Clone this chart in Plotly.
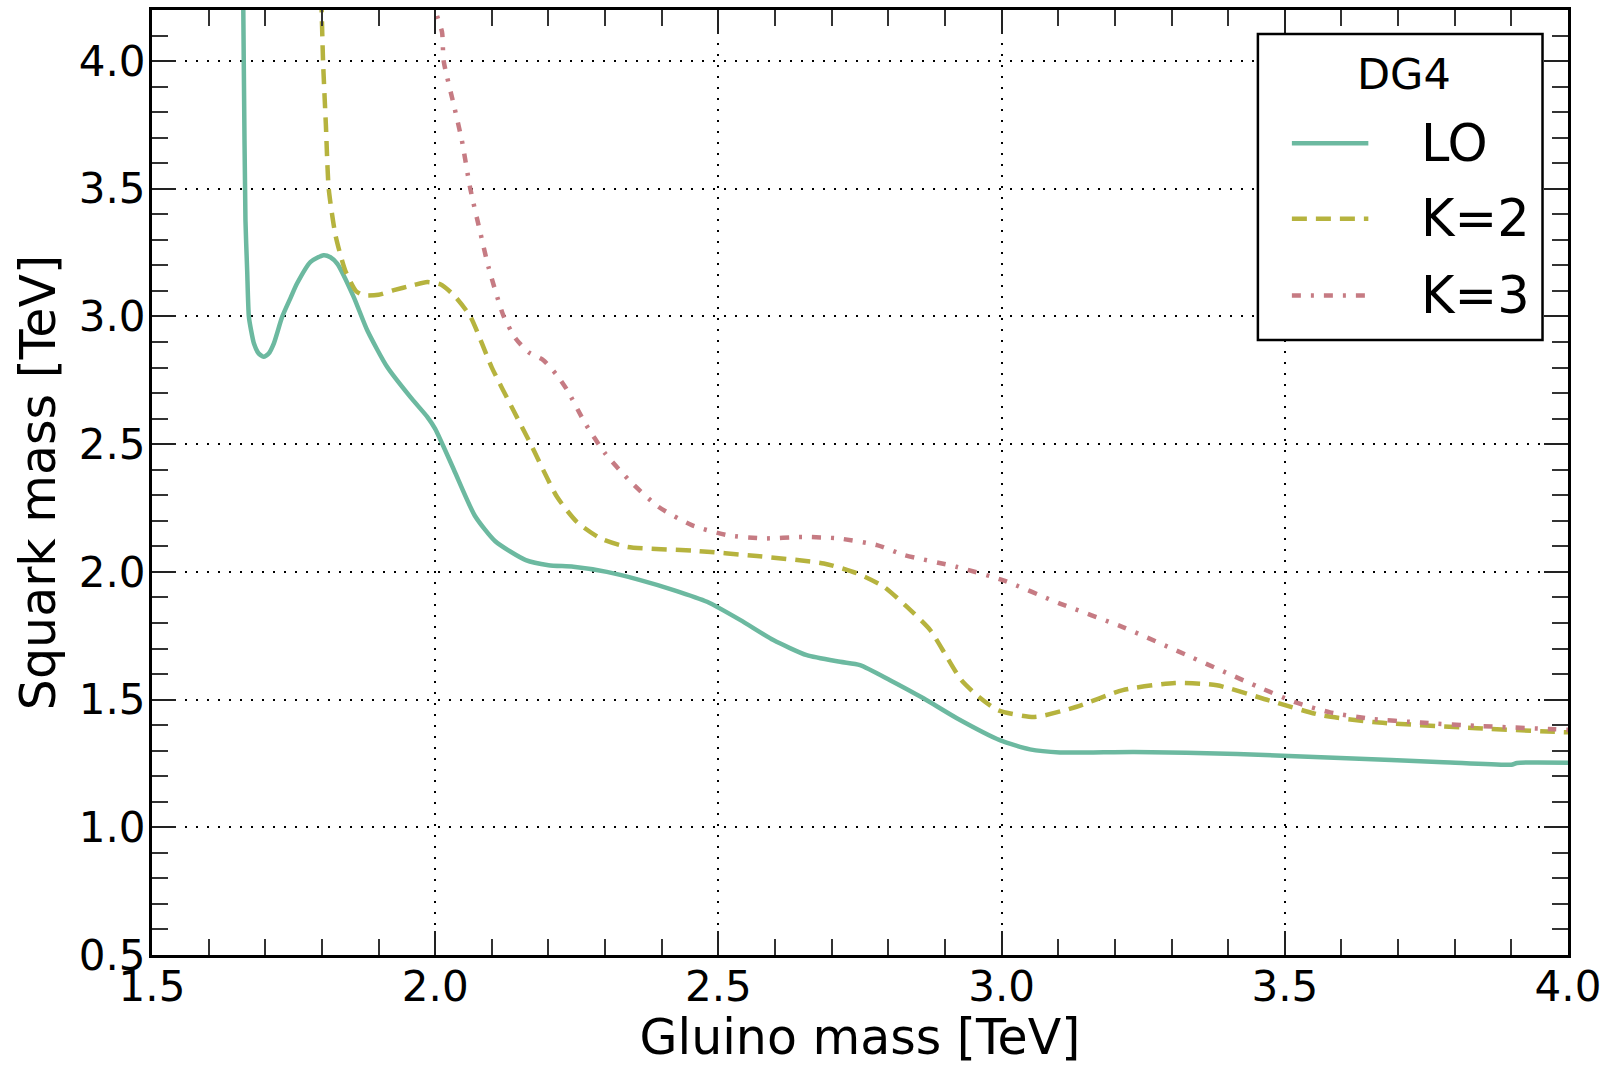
import plotly.graph_objects as go

# ---- data ----
lo_x = [1.661, 1.662, 1.665, 1.668, 1.671, 1.675, 1.680, 1.688, 1.697, 1.706, 1.715, 1.730, 1.745,
        1.756, 1.78, 1.803, 1.815, 1.827, 1.856, 1.88, 1.915, 1.956, 1.986, 2.0, 2.033, 2.07,
        2.106, 2.16, 2.2, 2.244, 2.303, 2.362, 2.421, 2.48, 2.539, 2.597, 2.656, 2.715, 2.75,
        2.803, 2.862, 2.921, 2.998, 3.05, 3.103, 3.234, 3.416, 3.598, 3.78, 3.90, 3.91, 4.0]
lo_y = [4.25, 4.0, 3.377, 3.181, 3.0, 2.945, 2.894, 2.856, 2.842, 2.855, 2.894, 3.0, 3.075,
        3.129, 3.214, 3.24, 3.232, 3.207, 3.077, 2.946, 2.803, 2.685, 2.607, 2.56, 2.40, 2.22,
        2.12, 2.046, 2.026, 2.020, 2.0, 1.968, 1.929, 1.883, 1.811, 1.733, 1.674, 1.648, 1.635,
        1.576, 1.505, 1.427, 1.34, 1.305, 1.293, 1.295, 1.287, 1.271, 1.255, 1.245, 1.252, 1.253]

k2_x = [1.799, 1.802, 1.807, 1.812, 1.824, 1.841, 1.86, 1.874, 1.90, 1.927, 1.96, 1.986, 2.01,
        2.033, 2.062, 2.10, 2.138, 2.168, 2.215, 2.25, 2.292, 2.339, 2.456, 2.568, 2.686,
        2.745, 2.792, 2.833, 2.874, 2.903, 2.929, 2.96, 2.994, 3.058, 3.131, 3.214, 3.306, 3.38,
        3.472, 3.564, 3.656, 3.839, 3.986, 4.0]
k2_y = [4.25, 4.0, 3.75, 3.5, 3.318, 3.181, 3.10, 3.083, 3.085, 3.103, 3.122, 3.135, 3.125,
        3.083, 3.0, 2.80, 2.633, 2.503, 2.294, 2.196, 2.131, 2.098, 2.083, 2.062, 2.033,
        1.994, 1.942, 1.863, 1.772, 1.668, 1.576, 1.51, 1.458, 1.432, 1.471, 1.537, 1.565, 1.556,
        1.497, 1.439, 1.412, 1.388, 1.373, 1.372]

k3_x = [1.999, 2.0003, 2.012, 2.015, 2.033, 2.047, 2.062, 2.08, 2.094, 2.121, 2.142, 2.165,
        2.191, 2.215, 2.233, 2.265, 2.30, 2.345, 2.394, 2.453, 2.515, 2.58, 2.648, 2.712, 2.78,
        2.828, 2.92, 3.003, 3.103, 3.214, 3.334, 3.453, 3.518, 3.58, 3.647, 3.74, 3.839, 3.977, 4.0]
k3_y = [4.25, 4.2, 4.114, 4.0, 3.827, 3.69, 3.5, 3.325, 3.194, 3.0, 2.914, 2.86,
        2.829, 2.77, 2.712, 2.581, 2.464, 2.353, 2.255, 2.183, 2.144, 2.131, 2.137, 2.131, 2.105,
        2.066, 2.02, 1.967, 1.876, 1.784, 1.667, 1.55, 1.49, 1.45, 1.426, 1.41, 1.397, 1.384, 1.382]

series_names = ["LO", "K=2", "K=3"]
legend_title = "DG4"
x_ticks = [1.5, 2.0, 2.5, 3.0, 3.5, 4.0]
y_ticks = [0.5, 1.0, 1.5, 2.0, 2.5, 3.0, 3.5, 4.0]

# ---- styles ----
colors = ["#6cb9a0", "#b6b33e", "#c67b83"]
dashes = ["solid", "15px,9px", "9px,10px,3px,10px"]
FONT = "DejaVu Sans"

fig = go.Figure()
for xs, ys, name, c, d in zip([lo_x, k2_x, k3_x], [lo_y, k2_y, k3_y], series_names, colors, dashes):
    fig.add_trace(go.Scatter(x=xs, y=ys, mode="lines", name=name, showlegend=False,
                             line=dict(color=c, width=4.5, dash=d, shape="spline", smoothing=0.6)))

axis_common = dict(
    showline=True, linewidth=3, linecolor="black", mirror="allticks",
    ticks="inside", ticklen=24, tickwidth=2, tickcolor="#222",
    showgrid=True, gridcolor="black", gridwidth=1.5, griddash="2px,9px",
    zeroline=False,
    tickfont=dict(family=FONT, size=42, color="black"),
    tickformat=".1f",
    minor=dict(ticks="inside", ticklen=16, tickwidth=2, tickcolor="#333",
               dtick=0.1, showgrid=False),
)

fig.update_xaxes(range=[1.5, 4.0], tickvals=x_ticks, minor_tick0=1.5, ticklabelstandoff=-7,
                 title=dict(text="Gluino mass [TeV]", font=dict(family=FONT, size=49, color="black"),
                            standoff=10),
                 **axis_common)
fig.update_yaxes(range=[0.5, 4.2], tickvals=y_ticks, minor_tick0=0.5, ticklabelstandoff=-5,
                 title=dict(text="Squark mass [TeV]", font=dict(family=FONT, size=49, color="black"),
                            standoff=8),
                 **axis_common)

# ---- legend drawn manually to match the original box ----
box = dict(x0=0.781, x1=0.982, y0=0.6508, y1=0.9746)
fig.add_shape(type="rect", xref="paper", yref="paper", **box,
              line=dict(color="black", width=2.5), fillcolor="white", layer="above")
fig.add_annotation(xref="paper", yref="paper", x=0.884, y=0.932, text=legend_title,
                   showarrow=False, xanchor="center", yanchor="middle",
                   font=dict(family=FONT, size=43, color="black"))
leg_y = [0.859, 0.779, 0.698]
for name, c, d, ly in zip(series_names, colors, dashes, leg_y):
    fig.add_shape(type="line", xref="paper", yref="paper", x0=0.805, x1=0.859, y0=ly, y1=ly,
                  line=dict(color=c, width=4.5, dash=d), layer="above")
    fig.add_annotation(xref="paper", yref="paper", x=0.895, y=ly, text=name,
                       showarrow=False, xanchor="left", yanchor="middle",
                       font=dict(family=FONT, size=51, color="black"))

fig.update_layout(
    width=1617, height=1066,
    margin=dict(l=152, r=49, t=10, b=111, autoexpand=False),
    plot_bgcolor="white", paper_bgcolor="white",
    font=dict(family=FONT, color="black"),
)

fig.write_html("out.html", config={"displayModeBar": False},
               post_script="document.body.style.margin='0';")
